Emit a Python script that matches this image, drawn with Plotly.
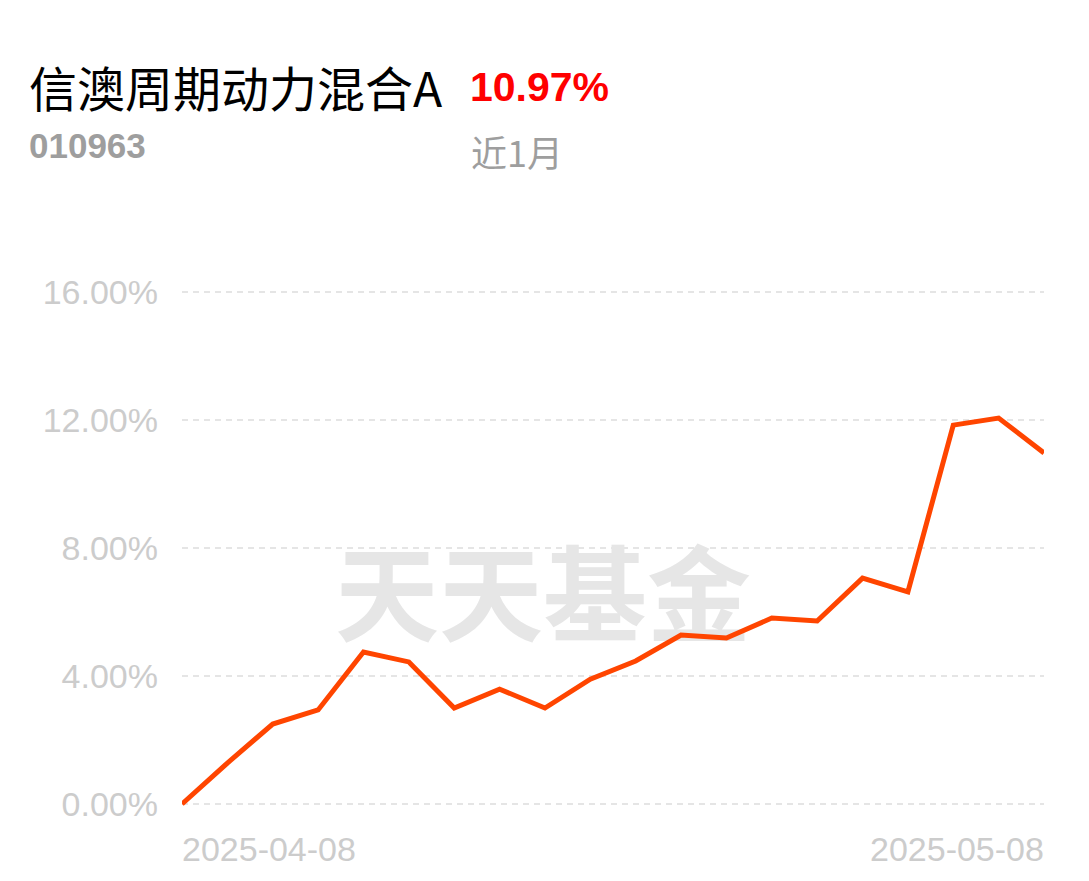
import plotly.graph_objects as go

dates = ["2025-04-08", "2025-04-09", "2025-04-10", "2025-04-11", "2025-04-14",
         "2025-04-15", "2025-04-16", "2025-04-17", "2025-04-18", "2025-04-21",
         "2025-04-22", "2025-04-23", "2025-04-24", "2025-04-25", "2025-04-28",
         "2025-04-29", "2025-04-30", "2025-05-06", "2025-05-07", "2025-05-08"]
returns = [0.00, 1.28, 2.50, 2.94, 4.75, 4.44, 3.00, 3.59, 3.00, 3.90,
           4.47, 5.28, 5.19, 5.81, 5.72, 7.06, 6.63, 11.84, 12.06, 10.97]
y_ticks = [0, 4, 8, 12, 16]
y_tick_labels = ["0.00%", "4.00%", "8.00%", "12.00%", "16.00%"]
x_tick_labels = ["2025-04-08", "2025-05-08"]

fund_name = "信澳周期动力混合A"
fund_code = "010963"
period_return = "10.97%"
period_label = "近1月"
watermark = "天天基金"

W, H = 1089, 881
OFF = 8  # page body offset
PAD = 0.25
L, R = 182, 1044
T, B = 292 - PAD * 32, 804 + PAD * 32  # plot area in page pixels
ml, mr, mt, mb = L - OFF, W - (R - OFF), T - OFF, H - (B - OFF)
pw, ph = R - L, B - T


def px(x):
    return (x - L) / pw


def py(y):
    return (B - y) / ph


fig = go.Figure()
# watermark drawn first so the line sits on top of it
fig.add_trace(go.Scatter(
    x=[(543 - L) / pw * (len(dates) - 1)], y=[(804 - 608) / 32], mode="text",
    text=[watermark], textposition="middle center",
    textfont=dict(family="Noto Sans CJK SC", size=104, color="#e6e6e6", weight="bold"),
    hoverinfo="skip", cliponaxis=False,
))
fig.add_trace(go.Scatter(
    x=list(range(len(dates))), y=returns, mode="lines",
    line=dict(color="#ff4500", width=5),
    cliponaxis=False, hoverinfo="skip",
))

grid = "#e5e5e5"
fig.update_layout(
    width=W, height=H,
    margin=dict(l=ml, r=mr, t=mt, b=mb),
    paper_bgcolor="white", plot_bgcolor="white",
    showlegend=False,
    xaxis=dict(range=[0, len(dates) - 1], showgrid=False, zeroline=False,
               showticklabels=False, showline=False, fixedrange=True),
    yaxis=dict(range=[-PAD, 16 + PAD], tickvals=y_ticks, ticktext=y_tick_labels,
               showgrid=True, gridcolor=grid, gridwidth=2, griddash="6px,5px",
               zeroline=False, showline=False, ticks="",
               ticklabelstandoff=23,
               tickfont=dict(family="Liberation Sans, Arial", size=34, color="#cccccc")),
    font=dict(family="Liberation Sans, Arial"),
)

fig.add_annotation(xref="x", yref="paper", x=0, y=py(849), text=x_tick_labels[0],
                   showarrow=False, xanchor="left", yanchor="middle", xshift=-2,
                   font=dict(family="Liberation Sans, Arial", size=34, color="#cccccc"))
fig.add_annotation(xref="x", yref="paper", x=len(dates) - 1, y=py(849), text=x_tick_labels[1],
                   showarrow=False, xanchor="right", yanchor="middle", xshift=2,
                   font=dict(family="Liberation Sans, Arial", size=34, color="#cccccc"))

fig.add_annotation(xref="paper", yref="paper", x=px(27), y=py(86),
                   text=fund_name, showarrow=False, xanchor="left", yanchor="middle",
                   font=dict(family="Noto Sans CJK SC", size=48, color="#000000"))
fig.add_annotation(xref="paper", yref="paper", x=px(27), y=py(145),
                   text=fund_code, showarrow=False, xanchor="left", yanchor="middle",
                   font=dict(family="Liberation Sans, Arial", size=35,
                             color="#9e9e9e", weight="bold"))
fig.add_annotation(xref="paper", yref="paper", x=px(468), y=py(87),
                   text=period_return, showarrow=False, xanchor="left", yanchor="middle",
                   font=dict(family="Liberation Sans, Arial", size=41,
                             color="#ff0000", weight="bold"))
fig.add_annotation(xref="paper", yref="paper", x=px(469), y=py(151),
                   text=period_label, showarrow=False, xanchor="left", yanchor="middle",
                   font=dict(family="Noto Sans CJK SC", size=36, color="#9e9e9e"))

fig.write_html("out.html")
